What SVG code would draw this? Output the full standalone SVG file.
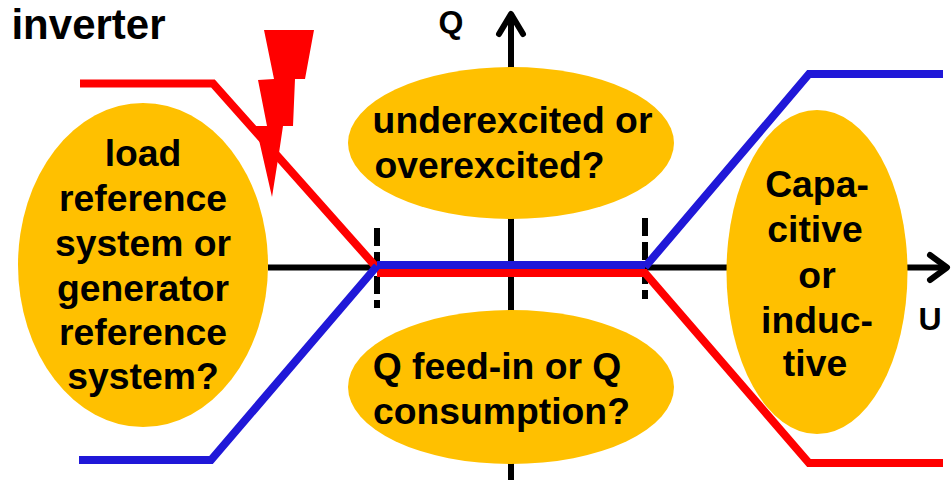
<svg xmlns="http://www.w3.org/2000/svg" width="951" height="480" viewBox="0 0 951 480">
<style>
text{font-family:"Liberation Sans",Arial,sans-serif;font-weight:700;fill:#000;text-anchor:middle}
.t{font-size:37.300px}
.l{font-size:32px}
.e{fill:#FFC000}
.ax{fill:none;stroke:#000;stroke-width:6}
.d{fill:none;stroke:#000;stroke-width:6;stroke-dasharray:18 6}
.c{fill:none;stroke-width:8}
.r{stroke:#FF0000}
.b{stroke:#2018D8}
</style>
<rect width="951" height="480" fill="#fff"/>
<g id="axes">
<path class="ax" d="M511 480V17"/>
<path class="ax" d="M268 267.500H945"/>
<path class="ax" stroke-linecap="round" stroke-linejoin="round" d="M499 34L511 14L523 34"/>
<path class="ax" stroke-linecap="round" stroke-linejoin="round" d="M930 255L947 267.500L930 280"/>
</g>
<g id="node-load"><ellipse class="e" cx="143" cy="265" rx="125" ry="162"/>
<text class="t" x="143" y="166">load</text><text class="t" x="143" y="211">reference</text><text class="t" x="143" y="256">system or</text><text class="t" x="143" y="301">generator</text><text class="t" x="143" y="345">reference</text><text class="t" x="143" y="389">system?</text></g>
<g id="node-under"><ellipse class="e" cx="511" cy="143" rx="163" ry="76"/>
<text class="t" x="512.500" y="133">underexcited or</text><text class="t" x="489.500" y="178">overexcited?</text></g>
<g id="node-feed"><ellipse class="e" cx="511" cy="387" rx="163" ry="77"/>
<text class="t" x="497" y="379">Q feed-in or Q</text><text class="t" x="501.500" y="424">consumption?</text></g>
<g id="node-cap"><ellipse class="e" cx="817" cy="272" rx="90.500" ry="162"/>
<text class="t" x="817" y="197">Capa-</text><text class="t" x="815" y="242">citive</text><text class="t" x="817" y="288">or</text><text class="t" x="817" y="333">induc-</text><text class="t" x="815" y="376">tive</text></g>
<g id="connectors">
<path class="d" d="M377 228V308"/>
<path class="d" d="M645 218V299"/>
<path class="c r" d="M80 83.500H213L377 268"/>
<path class="c r" d="M377 273H645L809 463H943"/>
<path class="c b" d="M79 460H211L377 266"/>
<path class="c b" d="M377 265H645"/>
<path class="c b" d="M645 267L809 74H943"/>
</g>
<g id="node-bolt"><polygon fill="#FF0000" points="264,30 314,30 305,79 295,79 293,126 283,126 279,153 272,197 259,140 255,126 267,126 258,80 274,79"/></g>
<text x="88.500" y="39" style="font-size:42px">inverter</text>
<text class="l" x="451" y="33">Q</text>
<text class="l" x="930" y="330">U</text>
</svg>
